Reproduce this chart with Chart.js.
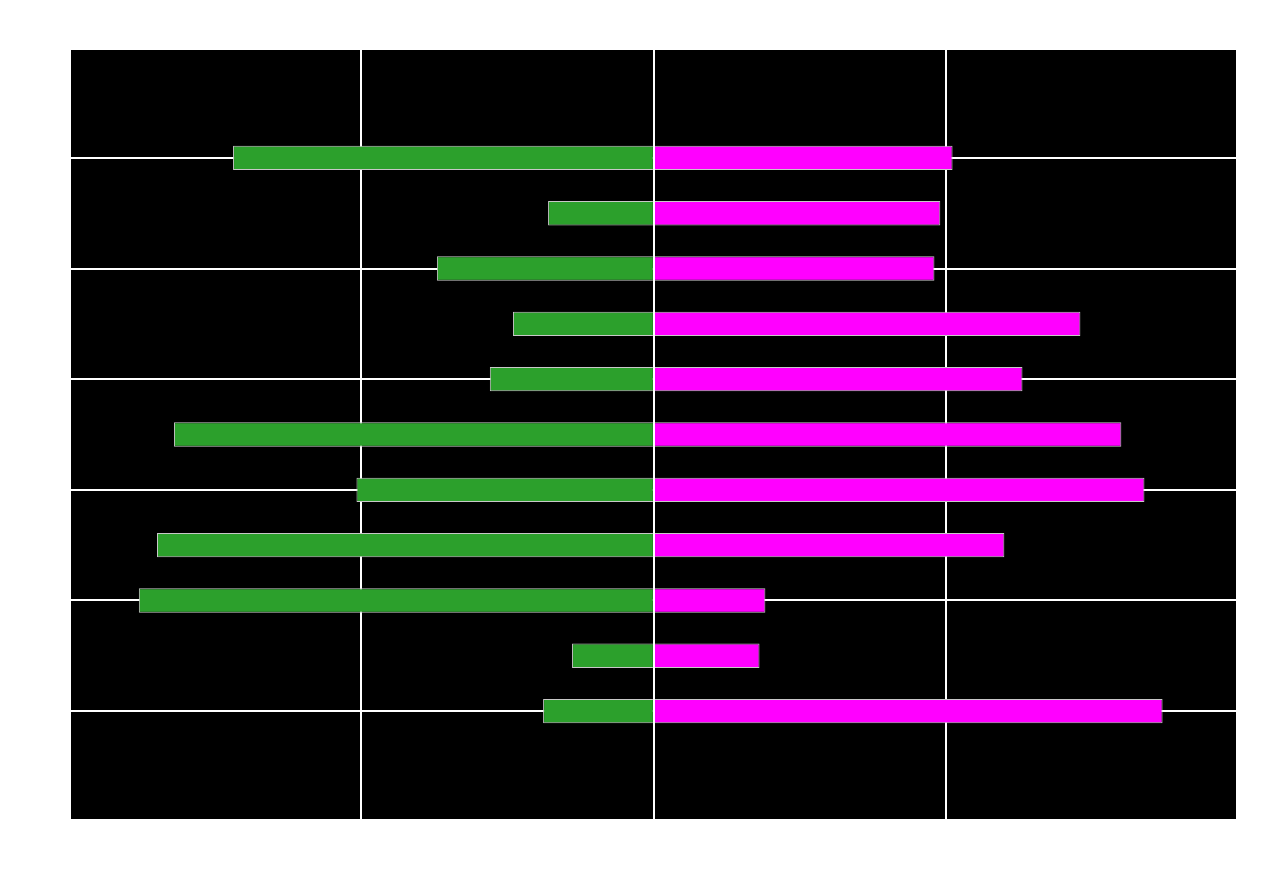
<!DOCTYPE html>
<html>
<head>
<meta charset="utf-8">
<script src="https://cdn.jsdelivr.net/npm/chart.js@4.4.1/dist/chart.umd.min.js"></script>
<style>
  html, body { margin: 0; padding: 0; background: #ffffff; }
  #wrap { width: 1280px; height: 880px; }
</style>
</head>
<body>
<div id="wrap"><canvas id="c" width="1280" height="880"></canvas></div>
<script>
// Data (arbitrary units, gridlines at -1, 0, 1)
const rowSlots = [2, 3, 4, 5, 6, 7, 8, 9, 10, 11, 12];
const greenValues = [-1.439, -0.362, -0.742, -0.482, -0.561, -1.641, -1.017, -1.699, -1.761, -0.280, -0.379];
const magentaValues = [1.021, 0.979, 0.959, 1.458, 1.260, 1.598, 1.677, 1.198, 0.381, 0.361, 1.739];
const xRange = [-1.993, 1.99];
const yRange = [0.05, 13.95];

const bgPlugin = {
  id: 'plotBg',
  beforeDraw(chart) {
    const { ctx, chartArea: a } = chart;
    ctx.save();
    ctx.fillStyle = '#000000';
    ctx.fillRect(a.left, a.top, a.right - a.left, a.bottom - a.top);
    ctx.restore();
  }
};

const toPoints = vals => vals.map((v, i) => ({ x: v, y: rowSlots[i] }));

function gridColor(ctx, range) {
  const v = ctx.tick ? ctx.tick.value : null;
  if (v === range[0] || v === range[1]) return 'rgba(0,0,0,0)';
  return '#ffffff';
}

new Chart(document.getElementById('c'), {
  type: 'bar',
  data: {
    datasets: [
      {
        data: toPoints(greenValues),
        backgroundColor: '#2ca02c',
        borderColor: '#c8c8c8',
        borderWidth: 1,
        barPercentage: 0.44,
        categoryPercentage: 1.0
      },
      {
        data: toPoints(magentaValues),
        backgroundColor: '#ff00ff',
        borderColor: '#c8c8c8',
        borderWidth: 1,
        barPercentage: 0.44,
        categoryPercentage: 1.0
      }
    ]
  },
  options: {
    indexAxis: 'y',
    responsive: false,
    animation: false,
    layout: { padding: { left: 71, right: 44, top: 50, bottom: 61 } },
    plugins: { legend: { display: false }, tooltip: { enabled: false } },
    scales: {
      x: {
        type: 'linear',
        min: xRange[0], max: xRange[1],
        stacked: true,
        ticks: { display: false, stepSize: 1 },
        border: { display: false },
        grid: { color: c => gridColor(c, xRange), lineWidth: 2, drawTicks: false }
      },
      y: {
        type: 'linear',
        min: yRange[0], max: yRange[1],
        reverse: true,
        stacked: true,
        offset: false,
        ticks: { display: false, stepSize: 2 },
        border: { display: false },
        grid: { offset: false, color: c => gridColor(c, yRange), lineWidth: 2, drawTicks: false }
      }
    }
  },
  plugins: [bgPlugin]
});
</script>
</body>
</html>
